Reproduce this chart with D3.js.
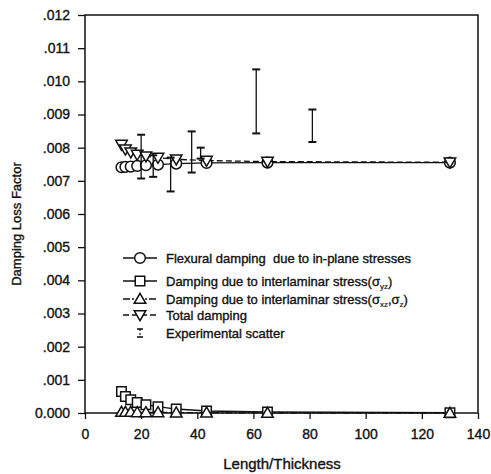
<!DOCTYPE html>
<html>
<head>
<meta charset="utf-8">
<script src="https://cdn.jsdelivr.net/npm/d3@7"></script>
<style>
  html, body { margin: 0; padding: 0; background: #fff; }
  svg { display: block; font-family: "Liberation Sans", Arial, Helvetica, sans-serif; }
  svg text { fill: #111; stroke: #111; stroke-width: 0.35px; }
</style>
</head>
<body>
<svg id="chart" width="491" height="474"></svg>
<script>
// Length-to-thickness ratios of the analysed beams
const lengthRatio = [13, 14.4, 16.3, 18.6, 21.7, 26, 32.5, 43.3, 65, 130];

// Damping loss factor components
const flexural    = [0.00741, 0.00742, 0.00743, 0.00745, 0.00747, 0.00749, 0.00752, 0.00754, 0.00755, 0.00755];
const shearYZ     = [0.00065, 0.00050, 0.00040, 0.00032, 0.00025, 0.00019, 0.00012, 0.00006, 0.00003, 0.00001];
const shearXZ     = [0.00003, 0.00003, 0.00003, 0.00002, 0.00002, 0.00002, 0.00001, 0.00001, 0.00000, 0.00000];
const totalDamp   = [0.00809, 0.00795, 0.00786, 0.00779, 0.00774, 0.00770, 0.00765, 0.00761, 0.00758, 0.00756];

// Experimental scatter ranges
const expRatio = [20, 24.3, 30.5, 38, 41.2, 61, 81];
const expLow   = [0.00707, 0.00712, 0.00668, 0.00725, 0.00767, 0.00843, 0.00817];
const expHigh  = [0.00839, 0.00777, 0.00770, 0.00849, 0.00800, 0.01036, 0.00915];

// Axis ticks
const xTicks = [0, 20, 40, 60, 80, 100, 120, 140];
const yTicks = [0, 0.001, 0.002, 0.003, 0.004, 0.005, 0.006, 0.007, 0.008, 0.009, 0.010, 0.011, 0.012];

const svg = d3.select("#chart");
const x = d3.scaleLinear().domain([0, 140]).range([85, 478]);
const y = d3.scaleLinear().domain([0, 0.012]).range([413, 15]);

const ink = "#111";

// Axes
const fmtY = v => v === 0 ? "0.000" : d3.format(".3f")(v).replace(/^0/, "");
const yAxis = d3.axisLeft(y).tickValues(yTicks).tickFormat(fmtY).tickSize(7).tickPadding(8).tickSizeOuter(0);
const xAxis = d3.axisBottom(x).tickValues(xTicks).tickFormat(d3.format("d")).tickSize(6).tickPadding(10).tickSizeOuter(0);

const gy = svg.append("g").attr("transform", "translate(85,0)").call(yAxis);
const gx = svg.append("g").attr("transform", "translate(0,413)").call(xAxis);
[gy, gx].forEach(g => {
  g.selectAll("text").attr("font-size", 14).attr("font-family", "Liberation Sans, Arial, sans-serif");
  g.selectAll("line").attr("stroke", ink).attr("stroke-width", 1.3);
  g.select(".domain").remove();
});

// Frame
svg.append("rect")
  .attr("x", x(0)).attr("y", y(0.012))
  .attr("width", x(140) - x(0)).attr("height", y(0) - y(0.012))
  .attr("fill", "none").attr("stroke", ink).attr("stroke-width", 1.5);

// Axis titles
svg.append("text")
  .attr("x", 282).attr("y", 469)
  .attr("text-anchor", "middle").attr("font-size", 15)
  .text("Length/Thickness");
svg.append("text")
  .attr("transform", "translate(21,224) rotate(-90)")
  .attr("text-anchor", "middle").attr("font-size", 13)
  .text("Damping Loss Factor");

// Series definitions
const series = [
  { values: flexural,  symbol: d3.symbolCircle,   size: 90,  rotate: 0,   dash: null },
  { values: shearYZ,   symbol: d3.symbolSquare,   size: 90,  rotate: 0,   dash: null },
  { values: shearXZ,   symbol: d3.symbolTriangle, size: 58,  rotate: 0,   dash: "7,2,2,2" },
  { values: totalDamp, symbol: d3.symbolTriangle, size: 58,  rotate: 180, dash: "6,3" }
];

const line = d3.line().x(d => x(d[0])).y(d => y(d[1]));
const nudge = s => s.symbol === d3.symbolTriangle ? (s.rotate ? -1 : 1) : 0;

series.forEach(s => {
  const pts = lengthRatio.map((r, i) => [r, s.values[i]]);
  svg.append("path")
    .attr("d", line(pts))
    .attr("fill", "none").attr("stroke", ink).attr("stroke-width", 1.3)
    .attr("stroke-dasharray", s.dash);
  svg.append("g").selectAll("path").data(pts).join("path")
    .attr("d", d3.symbol().type(s.symbol).size(s.size))
    .attr("transform", d => `translate(${x(d[0])},${y(d[1]) + nudge(s)}) rotate(${s.rotate})`)
    .attr("fill", "#fff").attr("stroke", ink).attr("stroke-width", 1.5);
});

// Experimental scatter bars
const bars = svg.append("g").attr("stroke", ink);
expRatio.forEach((r, i) => {
  const cx = x(r), y1 = y(expHigh[i]), y2 = y(expLow[i]);
  bars.append("line").attr("x1", cx).attr("x2", cx).attr("y1", y1).attr("y2", y2).attr("stroke-width", 1.3);
  [y1, y2].forEach(yy => bars.append("line")
    .attr("x1", cx - 4).attr("x2", cx + 4).attr("y1", yy).attr("y2", yy).attr("stroke-width", 2));
});

// Legend
const legend = svg.append("g");
const legX1 = 123, legX2 = 157, legMid = 140, textX = 166;
const legRows = [
  { yPos: 258, s: series[0], label: [["Flexural damping\u00a0 due to in-plane stresses"]] },
  { yPos: 281, s: series[1], label: [["Damping due to interlaminar stress(\u03c3"], ["yz", "sub"], [")"]] },
  { yPos: 299, s: series[2], label: [["Damping due to interlaminar stress(\u03c3"], ["xz", "sub"], [",\u03c3"], ["z", "sub"], [")"]] },
  { yPos: 315, s: series[3], label: [["Total damping"]] }
];
legRows.forEach(row => {
  legend.append("line")
    .attr("x1", legX1).attr("x2", legX2).attr("y1", row.yPos).attr("y2", row.yPos)
    .attr("stroke", ink).attr("stroke-width", 1.3).attr("stroke-dasharray", row.s.dash);
  legend.append("path")
    .attr("d", d3.symbol().type(row.s.symbol).size(row.s.size))
    .attr("transform", `translate(${legMid},${row.yPos + nudge(row.s)}) rotate(${row.s.rotate})`)
    .attr("fill", "#fff").attr("stroke", ink).attr("stroke-width", 1.5);
  const t = legend.append("text").attr("x", textX).attr("y", row.yPos + 4.5)
    .attr("font-size", 13);
  row.label.forEach(([str, kind]) => {
    const span = t.append("tspan").text(str);
    if (kind === "sub") span.attr("font-size", 8).attr("dy", 3).style("stroke-width", "0.2px");
    else if (t.selectAll("tspan").size() > 1) span.attr("dy", -3);
  });
});
// Scatter legend symbol
const ly = 333;
legend.append("line").attr("x1", legMid).attr("x2", legMid).attr("y1", ly - 4).attr("y2", ly + 4)
  .attr("stroke", ink).attr("stroke-width", 1.2).attr("stroke-dasharray", "2,2");
[ly - 4, ly + 4].forEach(yy => legend.append("line")
  .attr("x1", legMid - 3).attr("x2", legMid + 3).attr("y1", yy).attr("y2", yy)
  .attr("stroke", ink).attr("stroke-width", 1.6));
legend.append("text").attr("x", textX).attr("y", ly + 4.5)
  .attr("font-size", 13).text("Experimental scatter");
</script>
</body>
</html>
